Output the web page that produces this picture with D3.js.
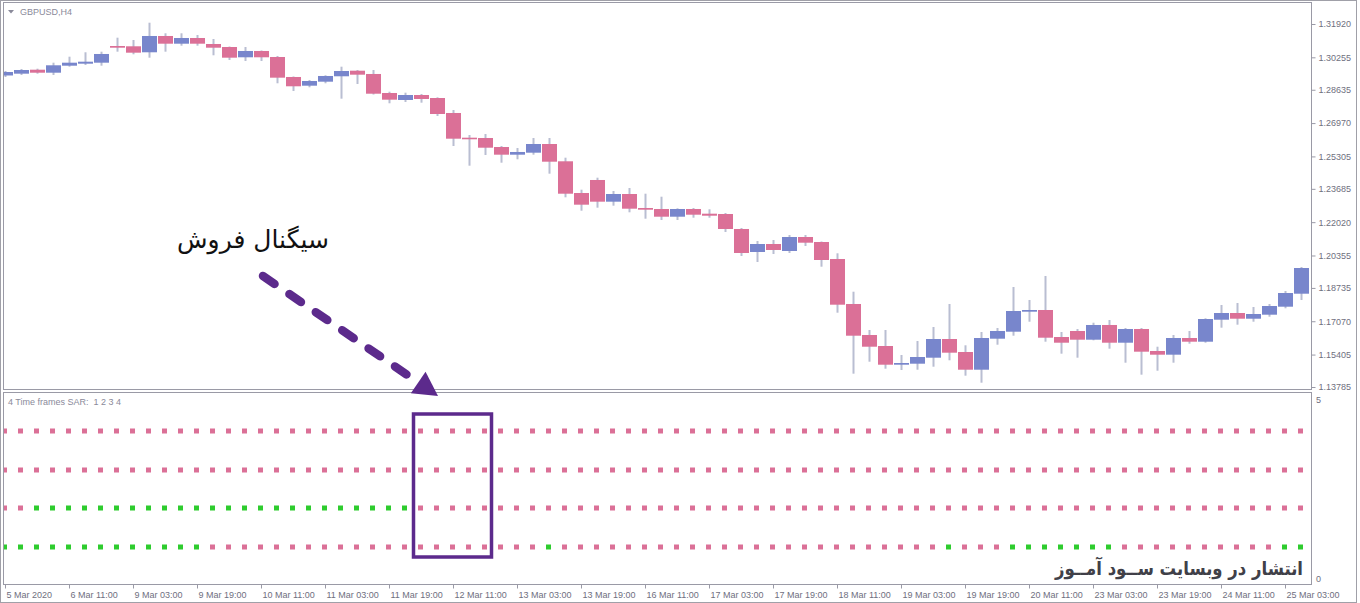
<!DOCTYPE html>
<html><head><meta charset="utf-8">
<script src="https://cdn.jsdelivr.net/npm/d3@7"></script>
<style>body{margin:0;background:#fff;overflow:hidden}svg{display:block}</style>
</head><body>
<svg id="c" width="1360" height="603"></svg>
<script>
// ---- data (GBPUSD H4) ----
const openP  = [1.29348,1.29438,1.29637,1.29487,1.29837,1.29937,1.29987,1.30821,1.30806,1.30507,
                1.31321,1.30936,1.31221,1.30921,1.30771,1.30257,1.30572,1.30272,1.29273,1.28838,
                1.29038,1.29308,1.29587,1.29423,1.28473,1.28124,1.28373,1.28223,1.27474,1.26240,
                1.26225,1.25775,1.25391,1.25491,1.25925,1.25061,1.23477,1.24127,1.23043,1.23427,
                1.22728,1.22678,1.22293,1.22678,1.22443,1.22428,1.21679,1.20530,1.20929,1.20580,
                1.21279,1.21029,1.20180,1.17932,1.16383,1.15833,1.14899,1.14949,1.15249,1.16183,
                1.15534,1.14649,1.16198,1.16548,1.17547,1.17632,1.16283,1.16583,1.16148,1.16883,
                1.15998,1.16683,1.15584,1.15399,1.16233,1.16048,1.17147,1.17482,1.17197,1.17397,
                1.17797,1.18446];
const highP  = [1.29572,1.29672,1.29687,1.29987,1.30287,1.30507,1.30537,1.31236,1.31121,1.31985,
                1.31456,1.31456,1.31371,1.31171,1.30796,1.30771,1.30597,1.30322,1.29298,1.29123,
                1.29358,1.29787,1.29622,1.29622,1.28538,1.28488,1.28423,1.28258,1.27624,1.26375,
                1.26425,1.25825,1.25725,1.26225,1.26225,1.25241,1.23642,1.24242,1.23577,1.23727,
                1.23442,1.23292,1.22713,1.22728,1.22663,1.22478,1.21729,1.21079,1.21129,1.21379,
                1.21379,1.21054,1.20465,1.18546,1.16633,1.16633,1.15384,1.16083,1.16783,1.17932,
                1.15868,1.16533,1.16733,1.18781,1.18132,1.19331,1.16533,1.16683,1.16997,1.17132,
                1.16733,1.16733,1.15798,1.16383,1.16583,1.17217,1.17882,1.17982,1.17782,1.17932,
                1.18581,1.19780];
const lowP   = [1.29273,1.29373,1.29438,1.29373,1.29787,1.29872,1.29837,1.30537,1.30407,1.30237,
                1.30537,1.30836,1.30836,1.30357,1.30122,1.30072,1.30072,1.28958,1.28573,1.28758,
                1.28958,1.28189,1.28923,1.28398,1.27959,1.28024,1.27989,1.27324,1.25825,1.24841,
                1.25376,1.24991,1.25161,1.25391,1.24442,1.23262,1.22593,1.22743,1.22843,1.22513,
                1.22193,1.22128,1.22128,1.22243,1.22243,1.21529,1.20330,1.20030,1.20430,1.20480,
                1.20829,1.19795,1.17497,1.14450,1.15049,1.14699,1.14634,1.14649,1.14799,1.15119,
                1.14350,1.14000,1.15898,1.16348,1.17047,1.16048,1.15449,1.15249,1.16118,1.15699,
                1.14999,1.14400,1.14599,1.14999,1.15948,1.15998,1.16748,1.16898,1.17047,1.17297,
                1.17717,1.18132];
const closeP = [1.29522,1.29622,1.29487,1.29857,1.29987,1.30037,1.30422,1.30736,1.30487,1.31321,
                1.30936,1.31221,1.30936,1.30736,1.30237,1.30572,1.30257,1.29238,1.28808,1.29073,
                1.29323,1.29572,1.29388,1.28438,1.28139,1.28373,1.28174,1.27424,1.26190,1.26175,
                1.25740,1.25391,1.25526,1.25925,1.25041,1.23442,1.22893,1.23043,1.23427,1.22693,
                1.22643,1.22293,1.22678,1.22393,1.22343,1.21679,1.20480,1.20929,1.20630,1.21279,
                1.20994,1.20130,1.17897,1.16348,1.15798,1.14899,1.14984,1.15284,1.16183,1.15499,
                1.14649,1.16233,1.16583,1.17582,1.17632,1.16248,1.15998,1.16148,1.16883,1.15998,
                1.16683,1.15549,1.15399,1.16233,1.16048,1.17182,1.17482,1.17197,1.17432,1.17832,
                1.18481,1.19730];
const priceTicks = [1.31920,1.30255,1.28635,1.26970,1.25305,1.23685,1.22020,1.20355,1.18735,1.17070,1.15405,1.13785];
const timeLabels = ["5 Mar 2020","6 Mar 11:00","9 Mar 03:00","9 Mar 19:00","10 Mar 11:00","11 Mar 03:00",
                    "11 Mar 19:00","12 Mar 11:00","13 Mar 03:00","13 Mar 19:00","16 Mar 11:00","17 Mar 03:00",
                    "17 Mar 19:00","18 Mar 11:00","19 Mar 03:00","19 Mar 19:00","20 Mar 11:00","23 Mar 03:00",
                    "23 Mar 19:00","24 Mar 11:00","25 Mar 03:00"];
const timeTickIdx = [0,4,8,12,16,20,24,28,32,36,40,44,48,52,56,60,64,68,72,76,80];
// SAR signal per bar for 4 timeframes (S = sell / pink, B = buy / green)
const sarLevels = [4,3,2,1];
const sarTF1 = ["SSSSSSSSSS","SSSSSSSSSS","SSSSSSSSSS","SSSSSSSSSS","SSSSSSSSSS","SSSSSSSSSS","SSSSSSSSSS","SSSSSSSSSS","SS"].join("");
const sarTF2 = ["SSSSSSSSSS","SSSSSSSSSS","SSSSSSSSSS","SSSSSSSSSS","SSSSSSSSSS","SSSSSSSSSS","SSSSSSSSSS","SSSSSSSSSS","SS"].join("");
const sarTF3 = ["SSBBBBBBBB","BBBBBBBBBB","BBBBBBSSSS","SSSSSSSSSS","SSSSSSSSSS","SSSSSSSSSS","SSSSSSSSSS","SSSSSSSSSS","SS"].join("");
const sarTF4 = ["BBBBBBBBBB","BBBSSSSSSS","SSSSSSSSSS","SSSSBSSSSS","SSSSSSSSSS","SSSSSSSSSB","SSSBBBBBBB","SSSSSSSSSS","BB"].join("");
const sarRows = [sarTF1,sarTF2,sarTF3,sarTF4];
const sarScale = [0,5];

// ---- drawing ----
const svg = d3.select("#c");
const FONT = "'Liberation Sans', Arial, sans-serif";
const AX = "#6f6f80";
const bullC = "#7886cc", bearC = "#db7097", wickC = "#b9bed2";
const sellC = "#db7097", buyC = "#2ecc2e", annC = "#5c2a8c";

const n = openP.length;
const x = d3.scaleLinear().domain([0, 81]).range([5, 1301]);
const y = d3.scaleLinear().domain([priceTicks[priceTicks.length-1], priceTicks[0]]).range([387, 24]);
const ys = d3.scaleLinear().domain(sarScale).range([585, 393]);

svg.append("rect").attr("width",1360).attr("height",603).attr("fill","#fff");

const defs = svg.append("defs");
defs.append("clipPath").attr("id","clipMain").append("rect").attr("x",4).attr("y",3).attr("width",1307).attr("height",386);
defs.append("clipPath").attr("id","clipSub").append("rect").attr("x",4).attr("y",393).attr("width",1307).attr("height",191);

// frames
svg.append("rect").attr("x",0.5).attr("y",0.5).attr("width",1356).attr("height",602).attr("fill","none").attr("stroke","#a0a0a8");
svg.append("rect").attr("x",3.5).attr("y",2.5).attr("width",1308).attr("height",387).attr("fill","none").attr("stroke","#9a9aa6");
svg.append("rect").attr("x",3.5).attr("y",392.5).attr("width",1308).attr("height",192).attr("fill","none").attr("stroke","#9a9aa6");

// candles
const data = d3.range(n).map(i => ({i, o:openP[i], h:highP[i], l:lowP[i], c:closeP[i]}));
const gMain = svg.append("g").attr("clip-path","url(#clipMain)");
gMain.selectAll("rect.wick").data(data).join("rect").attr("class","wick")
  .attr("x", d => Math.round(x(d.i)) - 0.5).attr("width", 2)
  .attr("y", d => y(d.h)).attr("height", d => Math.max(1, y(d.l) - y(d.h)))
  .attr("fill", wickC);
gMain.selectAll("rect.body").data(data).join("rect").attr("class","body")
  .attr("x", d => Math.round(x(d.i)) - 7).attr("width", 15)
  .attr("y", d => Math.min(y(d.o), y(d.c)))
  .attr("height", d => Math.max(1.6, Math.abs(y(d.o) - y(d.c))))
  .attr("fill", d => d.c >= d.o ? bullC : bearC);

// price axis
const yAxis = svg.append("g").attr("transform","translate(1311.5,0)")
  .call(d3.axisRight(y).tickValues(priceTicks).tickSize(4).tickFormat(d3.format(".5f")));
yAxis.select(".domain").remove();
yAxis.selectAll("line").attr("stroke", "#9a9aa6");
yAxis.selectAll("text").attr("fill", AX).attr("font-family", FONT).attr("font-size", 9).attr("x", 7);

// title
svg.append("path").attr("d","M8,10 L14,10 L11,13.5 Z").attr("fill","#8a8a9a");
svg.append("text").attr("x",20).attr("y",15).text("GBPUSD,H4")
  .attr("font-family",FONT).attr("font-size",9).attr("fill","#8a8a9a");

// SAR sub window
const gSub = svg.append("g").attr("clip-path","url(#clipSub)");
sarRows.forEach((row, r) => {
  const pts = row.split("").map((s, i) => ({i, s}));
  gSub.append("g").selectAll("rect").data(pts).join("rect")
    .attr("x", d => Math.round(x(d.i)) - 3).attr("width", 5)
    .attr("y", Math.round(ys(sarLevels[r])) - 2.5).attr("height", 5)
    .attr("fill", d => d.s === "B" ? buyC : sellC);
});
svg.append("text").attr("x",8).attr("y",405).text("4 Time frames SAR:  1 2 3 4")
  .attr("font-family",FONT).attr("font-size",9).attr("fill","#8a8a9a").style("white-space","pre");
svg.append("text").attr("x",1316).attr("y",403).text(sarScale[1])
  .attr("font-family",FONT).attr("font-size",9).attr("fill",AX);
svg.append("text").attr("x",1316).attr("y",582).text(sarScale[0])
  .attr("font-family",FONT).attr("font-size",9).attr("fill",AX);

// time axis
const xAxis = svg.append("g").attr("transform","translate(0,584.5)")
  .call(d3.axisBottom(x).tickValues(timeTickIdx).tickSize(4).tickFormat((d,i) => timeLabels[i]));
xAxis.select(".domain").remove();
xAxis.selectAll("line").attr("stroke","#9a9aa6");
xAxis.selectAll("text").attr("fill",AX).attr("font-family",FONT).attr("font-size",9)
  .attr("text-anchor","start").attr("x",1);

// annotation: sell signal
svg.append("text").attr("x",253).attr("y",248).attr("text-anchor","middle")
  .text("سیگنال فروش").attr("font-family","'DejaVu Sans', sans-serif").attr("font-size",25).attr("fill","#111");

const start = [263, 276], tip = [438, 396];
const dx = tip[0]-start[0], dy = tip[1]-start[1], L = Math.hypot(dx,dy), ux = dx/L, uy = dy/L;
const headLen = 24, headHalf = 13;
const base = [tip[0]-headLen*ux, tip[1]-headLen*uy];
svg.append("line").attr("x1",start[0]).attr("y1",start[1]).attr("x2",base[0]).attr("y2",base[1])
  .attr("stroke",annC).attr("stroke-width",8.5).attr("stroke-linecap","round").attr("stroke-dasharray","14 18");
svg.append("path").attr("d",`M${tip[0]},${tip[1]} L${base[0]-headHalf*uy},${base[1]+headHalf*ux} L${base[0]+headHalf*uy},${base[1]-headHalf*ux} Z`)
  .attr("fill",annC);

// highlight box over the signal bars (26..30)
svg.append("rect").attr("x", x(26)-7.5).attr("y",414).attr("width", x(30)-x(26)+14).attr("height",143)
  .attr("fill","none").attr("stroke",annC).attr("stroke-width",3.5);

// watermark
svg.append("text").attr("x",1179).attr("y",575).attr("text-anchor","middle")
  .attr("textLength",248).attr("lengthAdjust","spacingAndGlyphs")
  .text("انتشار در وبسایت ســود آمــوز").attr("font-family","'DejaVu Sans', sans-serif")
  .attr("font-weight","bold").attr("font-size",19).attr("fill","#404048");
</script>
</body></html>
